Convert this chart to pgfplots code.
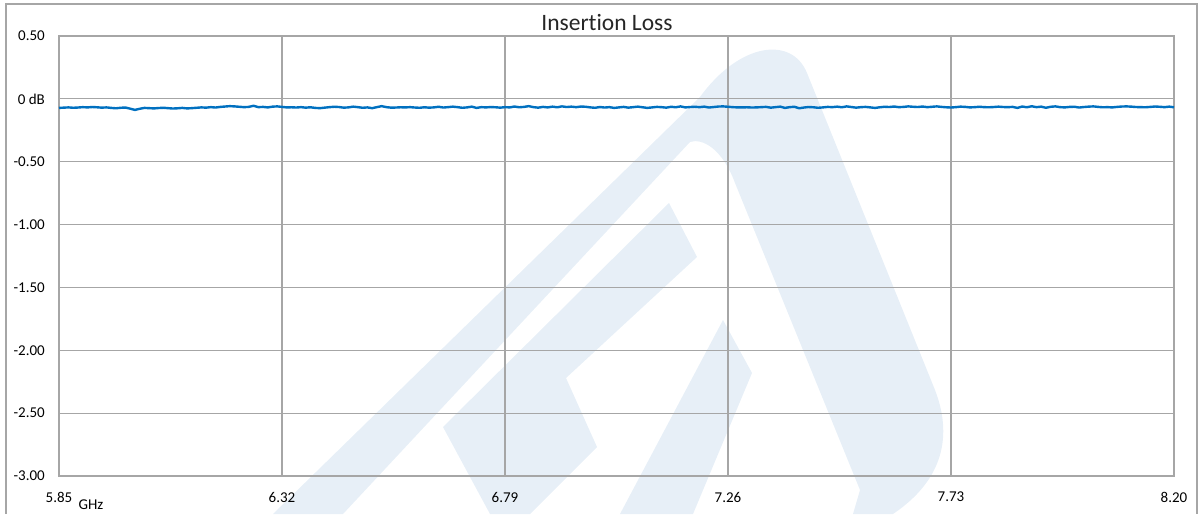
\documentclass[border=0pt]{standalone}
\usepackage{pgfplots}
\pgfplotsset{compat=1.18}
\usepackage{fontspec}
\setmainfont{Carlito}[Ligatures=NoCommon]
\definecolor{wm}{RGB}{231,239,247}
\definecolor{gridc}{RGB}{166,166,166}
\definecolor{linec}{RGB}{0,112,192}
\begin{document}
\begin{tikzpicture}[x=1pt,y=1pt]
\useasboundingbox (0,0) rectangle (1202,514);
% watermark
\fill[wm] (273,0) -- (700,417) .. controls (740,472) and (792,478) .. (807,441)
  -- (935,124) .. controls (952,80) and (945,35) .. (893,0) -- (853,0) -- (860,24)
  -- (735,331) .. controls (722,366) and (702,376) .. (690,372) -- (343,0) -- cycle;
\fill[wm] (669,311) -- (697,257) -- (566,136) -- (597,67) -- (530,0) -- (490,0) -- (443,87) -- cycle;
\fill[wm] (723,194) -- (752,141) -- (693,0) -- (620,0) -- cycle;
% outer border
\draw[gridc, line width=1.2pt] (6,0) -- (6,510) -- (1197,510) -- (1197,0);
\begin{axis}[
  at={(59pt,38pt)}, anchor=south west,
  scale only axis, width=1115pt, height=440pt,
  xmin=5.85, xmax=8.20, ymin=-3, ymax=0.5,
  xtick={5.85,6.32,6.79,7.26,7.73,8.20},
  xticklabels={5.85,6.32,6.79,7.26,7.73,8.20},
  ytick={-3,-2.5,-2,-1.5,-1,-0.5,0,0.5},
  yticklabels={-3.00,-2.50,-2.00,-1.50,-1.00,-0.50,0 dB,0.50},
  major tick length=0pt,
  grid=major,
  major grid style={gridc, line width=1.1pt},
  axis line style={gridc, line width=1.3pt},
  /pgf/number format/assume math mode=true,
  ticklabel style={font=\fontsize{15}{18}\selectfont, text=black},
  yticklabel style={anchor=east, inner sep=0pt, xshift=-14pt},
  xticklabel style={anchor=center, inner sep=0pt, yshift=-21pt},
  clip=false,
]
\addplot[linec, line width=2.4pt, line join=round] coordinates {
(5.85,-0.072)(5.86,-0.070)(5.87,-0.068)(5.88,-0.071)(5.89,-0.069)(5.90,-0.066)(5.91,-0.068)(5.92,-0.065)(5.93,-0.067)(5.94,-0.070)
(5.95,-0.068)(5.96,-0.072)(5.97,-0.075)(5.98,-0.071)(5.99,-0.069)(6.00,-0.078)(6.01,-0.088)(6.02,-0.079)(6.03,-0.072)(6.04,-0.074)
(6.05,-0.076)(6.06,-0.073)(6.07,-0.071)(6.08,-0.074)(6.09,-0.077)(6.10,-0.075)(6.11,-0.072)(6.12,-0.076)(6.13,-0.074)(6.14,-0.071)
(6.15,-0.068)(6.16,-0.070)(6.17,-0.066)(6.18,-0.069)(6.19,-0.064)(6.20,-0.061)(6.21,-0.058)(6.22,-0.060)(6.23,-0.063)(6.24,-0.066)
(6.25,-0.064)(6.26,-0.055)(6.27,-0.066)(6.28,-0.064)(6.29,-0.068)(6.30,-0.062)(6.31,-0.060)(6.32,-0.064)(6.33,-0.068)(6.34,-0.067)
(6.35,-0.069)(6.36,-0.066)(6.37,-0.070)(6.38,-0.067)(6.39,-0.072)(6.40,-0.074)(6.41,-0.070)(6.42,-0.066)(6.43,-0.063)(6.44,-0.065)
(6.45,-0.070)(6.46,-0.068)(6.47,-0.062)(6.48,-0.066)(6.49,-0.071)(6.50,-0.068)(6.51,-0.074)(6.52,-0.066)(6.53,-0.058)(6.54,-0.066)
(6.55,-0.070)(6.56,-0.069)(6.57,-0.067)(6.58,-0.068)(6.59,-0.066)(6.60,-0.069)(6.61,-0.071)(6.62,-0.067)(6.63,-0.070)(6.64,-0.068)
(6.65,-0.063)(6.66,-0.069)(6.67,-0.066)(6.68,-0.062)(6.69,-0.066)(6.70,-0.071)(6.71,-0.068)(6.72,-0.062)(6.73,-0.072)(6.74,-0.066)
(6.75,-0.068)(6.76,-0.065)(6.77,-0.067)(6.78,-0.070)(6.79,-0.066)(6.80,-0.068)(6.81,-0.061)(6.82,-0.067)(6.83,-0.064)(6.84,-0.058)
(6.85,-0.066)(6.86,-0.070)(6.87,-0.064)(6.88,-0.068)(6.89,-0.062)(6.90,-0.067)(6.91,-0.060)(6.92,-0.065)(6.93,-0.062)(6.94,-0.066)
(6.95,-0.061)(6.96,-0.063)(6.97,-0.068)(6.98,-0.071)(6.99,-0.065)(7.00,-0.069)(7.01,-0.066)(7.02,-0.072)(7.03,-0.068)(7.04,-0.064)
(7.05,-0.070)(7.06,-0.066)(7.07,-0.062)(7.08,-0.067)(7.09,-0.072)(7.10,-0.068)(7.11,-0.064)(7.12,-0.066)(7.13,-0.070)(7.14,-0.063)
(7.15,-0.067)(7.16,-0.060)(7.17,-0.068)(7.18,-0.065)(7.19,-0.063)(7.20,-0.066)(7.21,-0.062)(7.22,-0.069)(7.23,-0.065)(7.24,-0.061)
(7.25,-0.060)(7.26,-0.063)(7.27,-0.066)(7.28,-0.068)(7.29,-0.068)(7.30,-0.067)(7.31,-0.069)(7.32,-0.068)(7.33,-0.066)(7.34,-0.064)
(7.35,-0.070)(7.36,-0.066)(7.37,-0.062)(7.38,-0.072)(7.39,-0.066)(7.40,-0.063)(7.41,-0.075)(7.42,-0.069)(7.43,-0.065)(7.44,-0.067)
(7.45,-0.071)(7.46,-0.068)(7.47,-0.064)(7.48,-0.066)(7.49,-0.062)(7.50,-0.067)(7.51,-0.060)(7.52,-0.065)(7.53,-0.070)(7.54,-0.066)
(7.55,-0.064)(7.56,-0.068)(7.57,-0.072)(7.58,-0.067)(7.59,-0.063)(7.60,-0.065)(7.61,-0.061)(7.62,-0.066)(7.63,-0.064)(7.64,-0.060)
(7.65,-0.063)(7.66,-0.065)(7.67,-0.061)(7.68,-0.066)(7.69,-0.063)(7.70,-0.060)(7.71,-0.064)(7.72,-0.067)(7.73,-0.069)(7.74,-0.066)
(7.75,-0.062)(7.76,-0.064)(7.77,-0.068)(7.78,-0.066)(7.79,-0.063)(7.80,-0.066)(7.81,-0.067)(7.82,-0.065)(7.83,-0.062)(7.84,-0.065)
(7.85,-0.066)(7.86,-0.064)(7.87,-0.072)(7.88,-0.061)(7.89,-0.067)(7.90,-0.059)(7.91,-0.066)(7.92,-0.062)(7.93,-0.071)(7.94,-0.063)
(7.95,-0.060)(7.96,-0.066)(7.97,-0.068)(7.98,-0.064)(7.99,-0.063)(8.00,-0.069)(8.01,-0.065)(8.02,-0.062)(8.03,-0.060)(8.04,-0.064)
(8.05,-0.067)(8.06,-0.066)(8.07,-0.068)(8.08,-0.064)(8.09,-0.061)(8.10,-0.060)(8.11,-0.062)(8.12,-0.065)(8.13,-0.066)(8.14,-0.067)
(8.15,-0.064)(8.16,-0.061)(8.17,-0.063)(8.18,-0.066)(8.19,-0.062)(8.20,-0.067)
};
\end{axis}
\node[font=\fontsize{23.5}{28}\selectfont, text=black!85, anchor=base] at (607,483) {Insertion Loss};
\node[font=\fontsize{15}{18}\selectfont, text=black, anchor=center, inner sep=0pt] at (91,9) {GHz};
\end{tikzpicture}
\end{document}
